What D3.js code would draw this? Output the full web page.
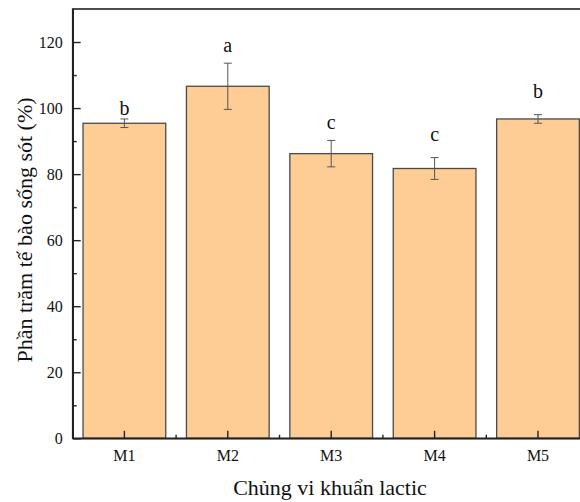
<!DOCTYPE html>
<html>
<head>
<meta charset="utf-8">
<script src="https://cdn.jsdelivr.net/npm/d3@7/dist/d3.min.js"></script>
<style>
  html, body { margin: 0; padding: 0; background: #fff; }
  svg { display: block; }
  svg text { font-family: "Liberation Serif", "Times New Roman", serif !important; fill: #111; }
</style>
</head>
<body>
<svg id="chart" width="580" height="502"></svg>
<script>
// Survival rate of lactic acid bacteria strains (mean ± SD) with significance letters
const strains = ["M1", "M2", "M3", "M4", "M5"];
const survival = [95.4, 106.6, 86.2, 81.7, 96.7];
const sd = [1.3, 7.0, 4.0, 3.3, 1.3];
const groups = ["b", "a", "c", "c", "b"];
const groupAt = [98.0, 117.0, 93.6, 90.1, 103.0];
const yTicks = [0, 20, 40, 60, 80, 100, 120];
const yMinorTicks = [10, 30, 50, 70, 90, 110];

const svg = d3.select("#chart");
const margin = { left: 72.7, top: 9, right: 589.7, bottom: 438.3 };

const x = d3.scaleBand()
  .domain(strains)
  .range([margin.left, margin.right])
  .paddingInner(0.2)
  .paddingOuter(0.1);

const y = d3.scaleLinear()
  .domain([0, 130])
  .range([margin.bottom, margin.top]);

const data = strains.map((s, i) => ({ s, v: survival[i], e: sd[i], g: groups[i], gy: groupAt[i] }));

// bars
svg.append("g").selectAll("rect").data(data).join("rect")
  .attr("x", d => x(d.s))
  .attr("y", d => y(d.v))
  .attr("width", x.bandwidth())
  .attr("height", d => y(0) - y(d.v))
  .attr("fill", "#fecc95")
  .attr("stroke", "#4a4a4a")
  .attr("stroke-width", 1.3);

// error bars
const eb = svg.append("g").attr("stroke", "#555").attr("stroke-width", 1).attr("fill", "none");
data.forEach(d => {
  const cx = x(d.s) + x.bandwidth() / 2;
  eb.append("line").attr("x1", cx).attr("x2", cx).attr("y1", y(d.v + d.e)).attr("y2", y(d.v - d.e));
  eb.append("line").attr("x1", cx - 4).attr("x2", cx + 4).attr("y1", y(d.v + d.e)).attr("y2", y(d.v + d.e));
  eb.append("line").attr("x1", cx - 4).attr("x2", cx + 4).attr("y1", y(d.v - d.e)).attr("y2", y(d.v - d.e));
});

// significance letters
svg.append("g").selectAll("text").data(data).join("text")
  .attr("x", d => x(d.s) + x.bandwidth() / 2)
  .attr("y", d => y(d.gy))
  .attr("text-anchor", "middle")
  .style("font-size", "20px")
  .text(d => d.g);

// frame
svg.append("rect")
  .attr("x", margin.left).attr("y", margin.top)
  .attr("width", margin.right - margin.left).attr("height", margin.bottom - margin.top)
  .attr("fill", "none").attr("stroke", "#222").attr("stroke-width", 1.6);

// y axis (ticks drawn inward)
const yAxis = d3.axisLeft(y).tickValues(yTicks).tickSize(-8).tickPadding(10).tickSizeOuter(0);
const gy = svg.append("g").attr("transform", `translate(${margin.left},0)`).call(yAxis);
gy.select(".domain").attr("stroke", "#222").attr("stroke-width", 1.6);
gy.selectAll(".tick line").attr("stroke", "#222").attr("stroke-width", 1.4);
gy.selectAll(".tick text").style("font-size", "16px");
const gyMinor = d3.axisLeft(y).tickValues(yMinorTicks).tickSize(-4).tickFormat("").tickSizeOuter(0);
svg.append("g").attr("transform", `translate(${margin.left},0)`).call(gyMinor)
  .call(g => g.select(".domain").remove())
  .selectAll(".tick line").attr("stroke", "#222").attr("stroke-width", 1.4);

// x axis (ticks drawn inward)
const xAxis = d3.axisBottom(x).tickSize(-7.5).tickPadding(11).tickSizeOuter(0);
const gx = svg.append("g").attr("transform", `translate(0,${margin.bottom})`).call(xAxis);
gx.select(".domain").attr("stroke", "#222").attr("stroke-width", 1.6);
gx.selectAll(".tick line").attr("stroke", "#222").attr("stroke-width", 1.4);
gx.selectAll(".tick text").style("font-size", "16px");
// minor ticks between strains
const step = x.step();
svg.append("g").selectAll("line").data(strains.slice(1)).join("line")
  .attr("x1", d => x(d) + x.bandwidth() / 2 - step / 2)
  .attr("x2", d => x(d) + x.bandwidth() / 2 - step / 2)
  .attr("y1", margin.bottom).attr("y2", margin.bottom - 3.5)
  .attr("stroke", "#222").attr("stroke-width", 1.4);

// axis titles
svg.append("text")
  .attr("x", 330).attr("y", 495)
  .attr("text-anchor", "middle").style("font-size", "22px")
  .text("Chủng vi khuẩn lactic");
svg.append("text")
  .attr("transform", "translate(32,230) rotate(-90)")
  .attr("text-anchor", "middle").style("font-size", "22px")
  .text("Phần trăm tế bào sống sót (%)");
</script>
</body>
</html>
